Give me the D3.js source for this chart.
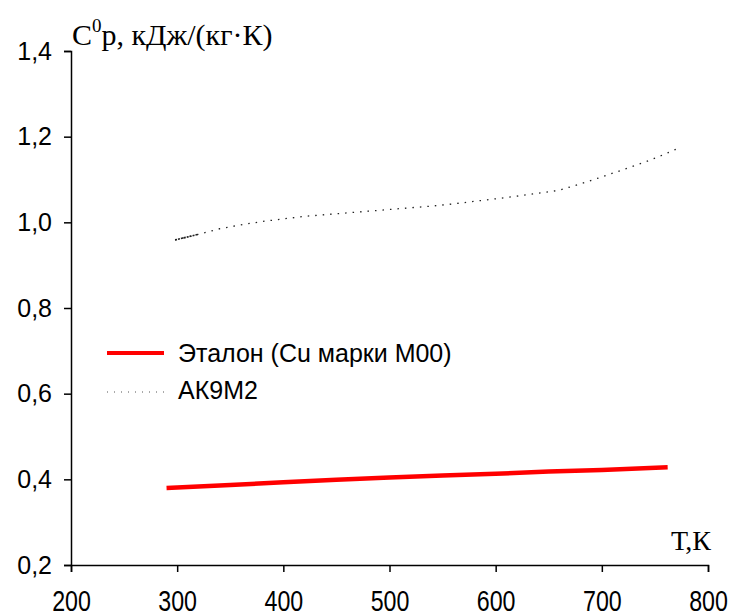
<!DOCTYPE html>
<html>
<head>
<meta charset="utf-8">
<script src="https://cdn.jsdelivr.net/npm/d3@7"></script>
<style>
  body { margin: 0; background: #fff; }
  .ytick text { font-family: "Liberation Sans", Arial, sans-serif; font-size: 25px; }
  .xtick text { font-family: "Liberation Sans", Arial, sans-serif; font-size: 29px; }
  .serif { font-family: "Liberation Serif", "Times New Roman", serif; }
  .leg { font-family: "Liberation Sans", Arial, sans-serif; font-size: 25px; }
</style>
</head>
<body>
<script>
// tick labels
var xTicks = [200, 300, 400, 500, 600, 700, 800];
var yTicks = [0.2, 0.4, 0.6, 0.8, 1.0, 1.2, 1.4];

// Эталон (Cu марки М00)
var refT = [290, 350, 400, 450, 500, 550, 600, 650, 700, 762];
var refCp = [0.380, 0.387, 0.393, 0.399, 0.404, 0.409, 0.413, 0.418, 0.422, 0.428];

// АК9М2
var alT = [298, 300, 310, 320, 340, 360, 380, 400, 420, 440, 460, 480, 500, 520, 540, 560, 580, 600, 620, 640, 660, 680, 700, 720, 740, 760, 773];
var alCp = [0.959, 0.960, 0.966, 0.972, 0.985, 0.994, 1.002, 1.008, 1.014, 1.018, 1.022, 1.026, 1.030, 1.034, 1.038, 1.043, 1.049, 1.055, 1.061, 1.068, 1.075, 1.090, 1.106, 1.123, 1.140, 1.160, 1.174];

var seriesNames = ["Эталон (Cu марки М00)", "АК9М2"];

function makeGraph() {
	var w = 732, h = 616;

	var svg = d3.select("body").append("svg")
		.attr("width", w)
		.attr("height", h);

	var xScale = d3.scaleLinear().domain([200, 800]).range([71, 708]);
	var yScale = d3.scaleLinear().domain([0.2, 1.4]).range([565, 51]);

	var fmt = function(d) { return d3.format(".1f")(d).replace(".", ","); };

	// y axis
	svg.append("g")
		.attr("class", "ytick")
		.attr("transform", "translate(" + xScale(200) + ",0)")
		.call(d3.axisLeft(yScale).tickValues(yTicks).tickSize(7).tickPadding(12).tickFormat(fmt))
		.call(function(g) {
			g.select(".domain").attr("stroke", "#000").attr("stroke-width", 1.5);
			g.selectAll("line").attr("stroke-width", 1.5);
			g.selectAll("text").attr("fill", "#000");
		});

	// x axis, labels squeezed like a narrow face
	svg.append("g")
		.attr("class", "xtick")
		.attr("transform", "translate(0," + yScale(0.2) + ")")
		.call(d3.axisBottom(xScale).tickValues(xTicks).tickSize(7).tickPadding(18).tickSizeOuter(7))
		.call(function(g) {
			g.select(".domain").attr("stroke", "#000").attr("stroke-width", 1.5);
			g.selectAll("line").attr("stroke-width", 1.5);
			g.selectAll("text").attr("fill", "#000").attr("transform", "scale(0.8,1)");
		});

	// axis titles
	var yt = svg.append("text")
		.attr("class", "serif")
		.attr("x", 72)
		.attr("y", 45)
		.attr("font-size", 30);
	yt.append("tspan").text("C");
	yt.append("tspan").attr("font-size", 19).attr("dy", -13).text("0");
	yt.append("tspan").attr("dy", 13).text("р, кДж/(кг·К)");

	svg.append("text")
		.attr("class", "serif")
		.attr("x", 711)
		.attr("y", 550)
		.attr("text-anchor", "end")
		.attr("font-size", 28)
		.text("Т,К");

	var line = d3.line()
		.x(function(d) { return xScale(d[0]); })
		.y(function(d) { return yScale(d[1]); });

	var refData = d3.zip(refT, refCp);
	var alData = d3.zip(alT, alCp);

	// red reference line
	svg.append("path")
		.datum(refData)
		.attr("d", line)
		.attr("fill", "none")
		.attr("stroke", "#ff0000")
		.attr("stroke-width", 4.5);

	// dotted alloy line
	svg.append("path")
		.datum(alData)
		.attr("d", line)
		.attr("fill", "none")
		.attr("stroke", "#222")
		.attr("stroke-width", 1.3)
		.attr("stroke-dasharray", "1.5,6");

	svg.append("path")
		.datum(alData.filter(function(d) { return d[0] <= 330; }))
		.attr("d", line)
		.attr("fill", "none")
		.attr("stroke", "#222")
		.attr("stroke-width", 1.6)
		.attr("stroke-dasharray", "2,1");

	// legend
	var leg = svg.append("g");
	leg.append("line")
		.attr("x1", 107).attr("x2", 164)
		.attr("y1", 353).attr("y2", 353)
		.attr("stroke", "#ff0000")
		.attr("stroke-width", 4);
	leg.append("line")
		.attr("x1", 107).attr("x2", 164)
		.attr("y1", 392).attr("y2", 392)
		.attr("stroke", "#555")
		.attr("stroke-width", 1)
		.attr("stroke-dasharray", "1,6");
	leg.selectAll("text.leg")
		.data(seriesNames)
		.enter()
		.append("text")
		.attr("class", "leg")
		.attr("x", 178)
		.attr("y", function(d, i) { return 362 + i * 37; })
		.text(function(d) { return d; });
}

makeGraph();
</script>
</body>
</html>
